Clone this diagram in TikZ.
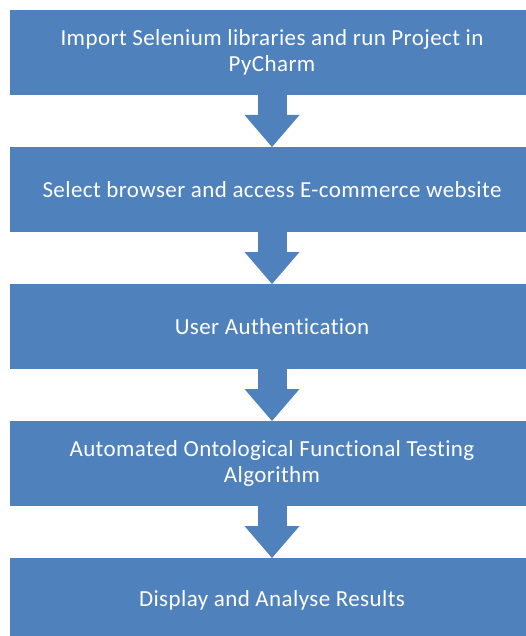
\documentclass[tikz,border=0pt]{standalone}
\usepackage{fontspec}
\setmainfont{Carlito}
\newfontfamily\stepfont[LetterSpace=1.8,Ligatures={NoCommon}]{Carlito}
\usetikzlibrary{arrows.meta,positioning}
\definecolor{StepBlue}{RGB}{79,129,189}

\begin{document}
\begin{tikzpicture}[x=1pt,y=1pt,node distance=52pt,
    stepbox/.style={fill=StepBlue,text=white,minimum width=524pt,
      minimum height=85pt,inner sep=0pt,outer sep=0pt,align=center,
      font=\stepfont\fontsize{23}{26}\selectfont},
    stepflow/.style={StepBlue,line width=29pt,
      -{Triangle[length=32pt,width=55pt,line width=0pt]}}]
      \useasboundingbox (0,0) rectangle (525,-636);
      \node[stepbox] (import) at (272,-52.5)
        {Import Selenium libraries and run Project in\\PyCharm};
      \node[stepbox,below=of import] (browser)
        {Select browser and access E-commerce website};
      \node[stepbox,below=of browser] (auth) {User Authentication};
      \node[stepbox,below=of auth] (testing)
        {Automated Ontological Functional Testing\\Algorithm};
      \node[stepbox,below=of testing] (results)
        {Display and Analyse Results};
      \draw[stepflow] (import) -- (browser);
      \draw[stepflow] (browser) -- (auth);
      \draw[stepflow] (auth) -- (testing);
      \draw[stepflow] (testing) -- (results);
    \end{tikzpicture}
\end{document}
